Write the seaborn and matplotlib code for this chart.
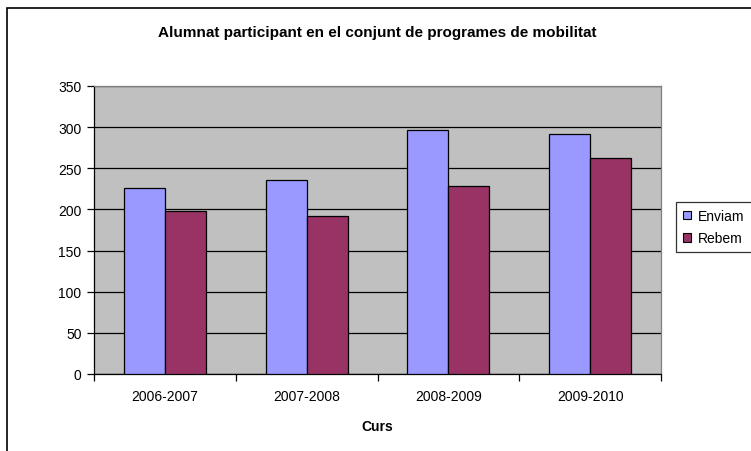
import pandas as pd
import matplotlib.pyplot as plt
import matplotlib.patches as mpatches
import seaborn as sns

# dades del grafic
cursos = ['2006-2007', '2007-2008', '2008-2009', '2009-2010']
enviam = [226, 236, 296, 292]
rebem = [198, 192, 229, 262]
series = ['Enviam', 'Rebem']
colors = ['#9999FF', '#993366']

df = pd.DataFrame({
    'Curs': cursos * 2,
    'valor': enviam + rebem,
    'serie': ['Enviam'] * 4 + ['Rebem'] * 4,
})

sns.set_style('white')
plt.rcParams['font.family'] = ['Liberation Sans', 'DejaVu Sans']
plt.rcParams['text.color'] = 'black'
plt.rcParams['axes.labelcolor'] = 'black'
plt.rcParams['xtick.color'] = 'black'
plt.rcParams['ytick.color'] = 'black'

fig = plt.figure(figsize=(7.51, 4.52), dpi=100)
ax = fig.add_axes([94 / 751, 1 - 375 / 452, (661 - 94) / 751, (375 - 87) / 452])
ax.set_facecolor('#C0C0C0')

sns.barplot(data=df, x='Curs', y='valor', hue='serie', palette=colors,
            width=0.58, gap=0, edgecolor='black', linewidth=0.9,
            saturation=1, ax=ax, legend=False, zorder=3)

ax.set_ylim(0, 350)
ax.set_yticks(range(0, 351, 50))
ax.set_xlim(-0.5, 3.5)
ax.yaxis.grid(True, color='black', linewidth=0.9, zorder=1)
ax.set_axisbelow(True)

# ticks entre categories
ax.set_xticks([i - 0.5 for i in range(5)], minor=True)
ax.tick_params(axis='x', which='major', bottom=True, length=0, labelsize=10, pad=11)
ax.tick_params(axis='x', which='minor', bottom=True, length=5, direction='out',
               color='black', width=0.9)
ax.tick_params(axis='y', left=True, length=5, direction='out', color='black',
               width=0.9, labelsize=10, pad=4)

for side in ['left', 'bottom']:
    ax.spines[side].set_color('black')
    ax.spines[side].set_linewidth(0.9)
for side in ['top', 'right']:
    ax.spines[side].set_color('#808080')
    ax.spines[side].set_linewidth(0.9)

ax.set_ylabel('')
ax.set_xlabel('Curs', fontsize=10, fontweight='bold', labelpad=11)

fig.text(377 / 751, 1 - 33 / 452, 'Alumnat participant en el conjunt de programes de mobilitat',
         ha='center', va='center', fontsize=11, fontweight='bold')

# marc exterior del grafic
marc = mpatches.Rectangle((7 / 751, -0.1), 1.2, 1.1 - 9 / 452, transform=fig.transFigure,
                          fill=False, edgecolor='black', linewidth=1.2, clip_on=False)
fig.patches.append(marc)

handles = [mpatches.Patch(facecolor=c, edgecolor='black', linewidth=0.8, label=s)
           for s, c in zip(series, colors)]
leg = fig.legend(handles=handles, loc='upper left', bbox_to_anchor=(676 / 751, 1 - 203 / 452),
                 fontsize=10, frameon=True, fancybox=False, edgecolor='black',
                 handlelength=0.6, handleheight=0.6, handletextpad=0.5,
                 borderpad=0.5, labelspacing=0.6, borderaxespad=0)
leg.get_frame().set_linewidth(0.9)

fig.savefig('out.png', dpi=100)
